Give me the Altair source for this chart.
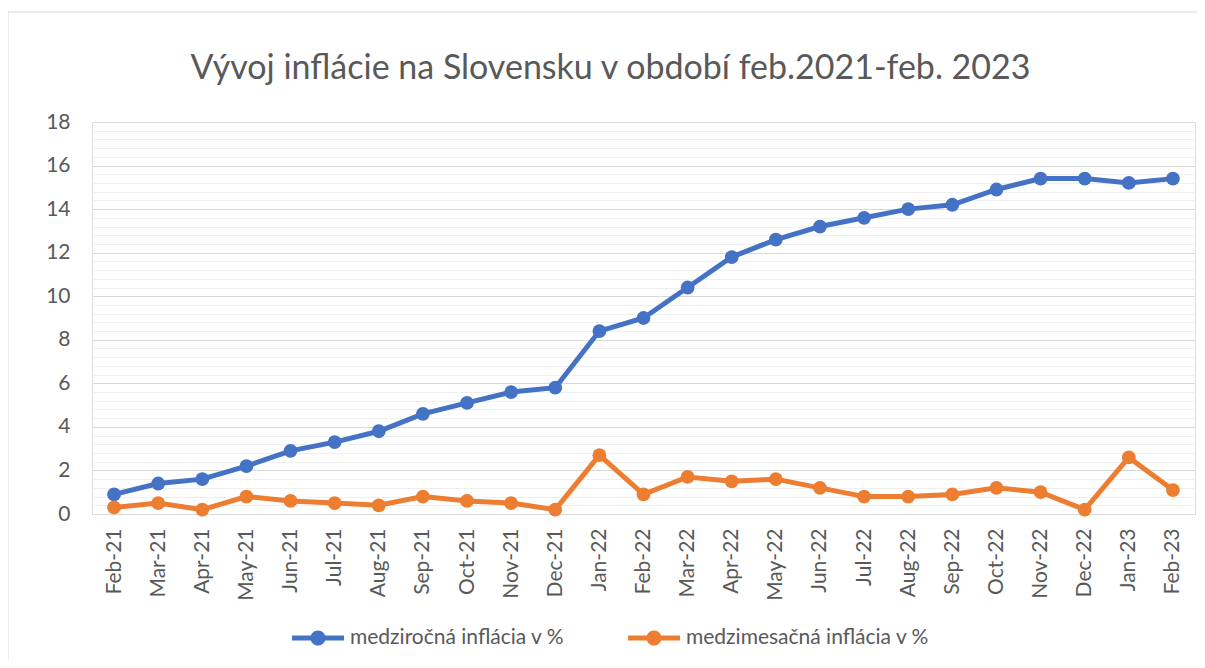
import altair as alt
import pandas as pd

months = ["Feb-21", "Mar-21", "Apr-21", "May-21", "Jun-21", "Jul-21", "Aug-21", "Sep-21",
          "Oct-21", "Nov-21", "Dec-21", "Jan-22", "Feb-22", "Mar-22", "Apr-22", "May-22",
          "Jun-22", "Jul-22", "Aug-22", "Sep-22", "Oct-22", "Nov-22", "Dec-22", "Jan-23", "Feb-23"]
yoy = [0.9, 1.4, 1.6, 2.2, 2.9, 3.3, 3.8, 4.6, 5.1, 5.6, 5.8, 8.4, 9.0, 10.4, 11.8, 12.6,
       13.2, 13.6, 14.0, 14.2, 14.9, 15.4, 15.4, 15.2, 15.4]
mom = [0.3, 0.5, 0.2, 0.8, 0.6, 0.5, 0.4, 0.8, 0.6, 0.5, 0.2, 2.7, 0.9, 1.7, 1.5, 1.6,
       1.2, 0.8, 0.8, 0.9, 1.2, 1.0, 0.2, 2.6, 1.1]
series = ["medziročná inflácia v %", "medzimesačná inflácia v %"]
colors = ["#4472C4", "#ED7D31"]
major_ticks = [0, 2, 4, 6, 8, 10, 12, 14, 16, 18]
minor_ticks = [round(i * 0.4, 1) for i in range(46) if i % 5 != 0]

df = pd.DataFrame({
    "month": months * 2,
    "value": yoy + mom,
    "series": [series[0]] * len(months) + [series[1]] * len(months),
})

TXT = "#595959"
FONT = "Lato"

x_axis = alt.Axis(title=None, labelAngle=-90, labelAlign="right", labelBaseline="middle",
                  labelFontSize=21, labelColor=TXT, labelFont=FONT, labelPadding=14,
                  ticks=False, domain=False, grid=False)
x_enc = alt.X("month:N", sort=months, scale=alt.Scale(type="point", padding=0.5), axis=x_axis)
y_scale = alt.Scale(domain=[0, 18], nice=False, zero=True)
color_scale = alt.Scale(domain=series, range=colors)

legend_path = ("M-1,-0.1L1,-0.1L1,0.1L-1,0.1Z "
               "M0.29,0A0.29,0.29,0,1,1,-0.29,0A0.29,0.29,0,1,1,0.29,0Z")
legend = alt.Legend(title=None, orient="none", direction="horizontal",
                    legendX=200, legendY=490, symbolType=legend_path,
                    symbolSize=2704, symbolStrokeWidth=0, symbolOpacity=1,
                    labelFontSize=21, labelColor=TXT, labelFont=FONT, labelLimit=500,
                    labelOffset=6, columnPadding=63, padding=0)

frame = alt.Chart(pd.DataFrame({"k": [0]})).mark_rect(
    fill=None, stroke="#d9d9d9", strokeWidth=1
).encode(x=alt.value(-84), x2=alt.value(1300), y=alt.value(-110), y2=alt.value(800))

minor = alt.Chart(df).mark_line(opacity=0).encode(
    x=x_enc,
    y=alt.Y("value:Q", scale=y_scale,
            axis=alt.Axis(orient="left", values=minor_ticks, labels=False, ticks=False,
                          domain=False, grid=True, gridColor="#efefef", gridWidth=1,
                          title=None)),
    detail="series:N",
)

lines = alt.Chart(df).mark_line(strokeWidth=5).encode(
    x=x_enc,
    y=alt.Y("value:Q", scale=y_scale,
            axis=alt.Axis(orient="left", values=major_ticks, labelFontSize=21,
                          labelColor=TXT, labelFont=FONT, labelPadding=22, ticks=False,
                          domain=False, grid=True, gridColor="#d9d9d9", gridWidth=1,
                          title=None)),
    color=alt.Color("series:N", scale=color_scale, legend=legend),
)

points = alt.Chart(df).mark_circle(size=190, opacity=1).encode(
    x=x_enc,
    y=alt.Y("value:Q", scale=y_scale, axis=None),
    color=alt.Color("series:N", scale=color_scale, legend=legend),
)

chart = alt.layer(frame, minor, lines, points).resolve_axis(y="independent").properties(
    width=1103,
    height=392,
    padding={"left": 84, "top": 114, "right": 2, "bottom": 146},
    autosize=alt.AutoSizeParams(type="none"),
    title=alt.TitleParams(
        text="Vývoj inflácie na Slovensku v období feb.2021-feb. 2023",
        fontSize=34, font=FONT, fontWeight="normal", color=TXT,
        anchor="middle", dx=-33, offset=-74,
    ),
).configure_view(stroke=None).configure(font=FONT)

chart.save("out.html", embed_options={"renderer": "svg", "actions": False})
